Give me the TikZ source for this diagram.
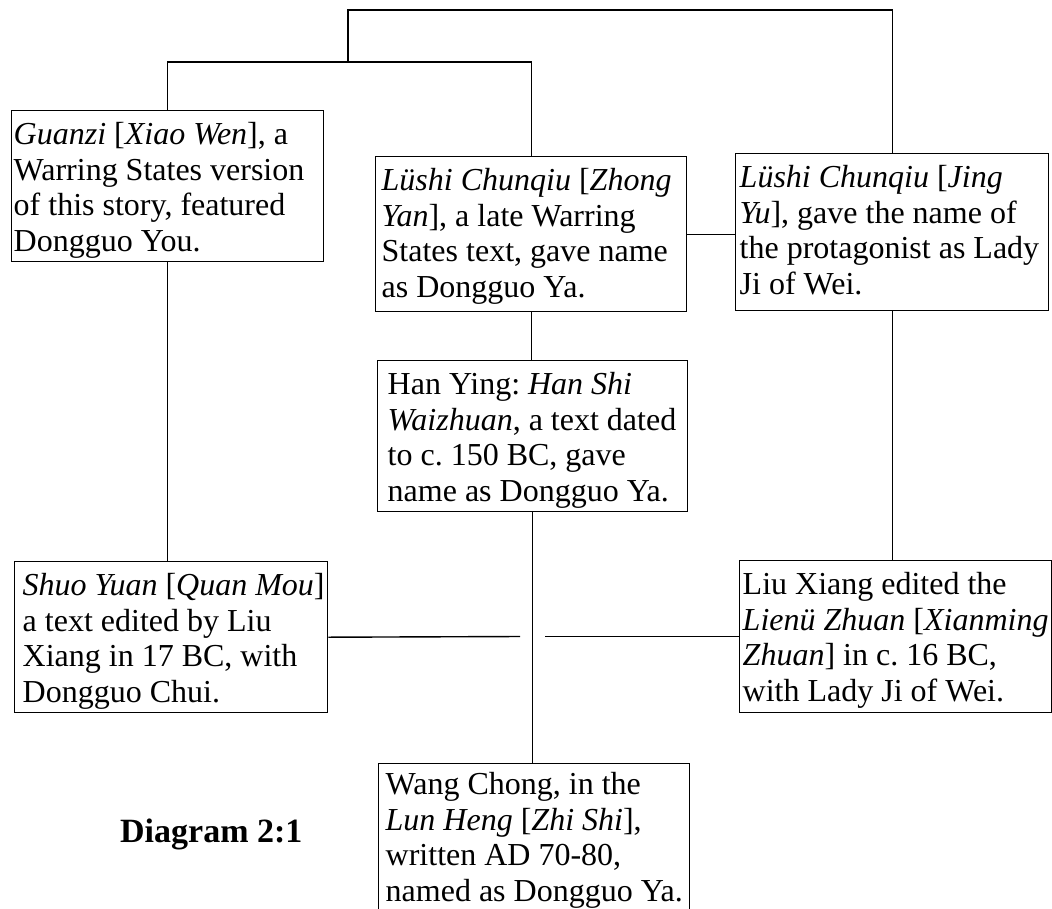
\documentclass[tikz,border=0pt]{standalone}
\usepackage{fontspec}
\setmainfont{Liberation Serif}
% fixed-width, left-aligned block of pre-broken lines
\newcommand\cardtext[2]{\makebox[#1][l]{\begin{tabular}[t]{@{}l@{}}#2\end{tabular}}}
\begin{document}
\frenchspacing
\begin{tikzpicture}[x=1pt, y=-1pt,
  textbox/.style={draw, line width=1.4pt, anchor=north west,
    inner ysep=0pt, text height=34pt,
    font=\fontsize{32}{35.5}\selectfont},
  link/.style={line width=1.4pt},
  heading/.style={anchor=base west, inner sep=0pt,
    font=\bfseries\fontsize{34}{40}\selectfont}]
\useasboundingbox (0,0) rectangle (1052,908);
\clip (0,0) rectangle (1052,908);

% text boxes, placed by their top-left corners
\node[textbox, inner xsep=2pt, text depth=117pt] (G) at (11,110)
  {\cardtext{308pt}{\textit{Guanzi} [\textit{Xiao Wen}], a\\Warring States version\\of this story, featured\\Dongguo You.}};
\node[textbox, inner xsep=6pt, text depth=121pt] (Z) at (375,156)
  {\cardtext{299pt}{\textit{Lüshi Chunqiu} [\textit{Zhong}\\\textit{Yan}], a late Warring\\States text, gave name\\as Dongguo Ya.}};
\node[textbox, inner xsep=4pt, text depth=123pt] (J) at (735,153)
  {\cardtext{305pt}{\textit{Lüshi Chunqiu} [\textit{Jing}\\\textit{Yu}], gave the name of\\the protagonist as Lady\\Ji of Wei.}};
\node[textbox, inner xsep=10pt, text depth=117pt] (H) at (377,360)
  {\cardtext{290pt}{Han Ying: \textit{Han Shi}\\\textit{Waizhuan}, a text dated\\to c. 150 BC, gave\\name as Dongguo Ya.}};
\node[textbox, inner xsep=8pt, text depth=117pt] (S) at (14,561)
  {\cardtext{297pt}{\textit{Shuo Yuan} [\textit{Quan Mou}]\\a text edited by Liu\\Xiang in 17 BC, with\\Dongguo Chui.}};
\node[textbox, inner xsep=3pt, text depth=118pt] (L) at (739,560)
  {\cardtext{306pt}{Liu Xiang edited the\\\textit{Lienü Zhuan} [\textit{Xianming}\\\textit{Zhuan}] in c. 16 BC,\\with Lady Ji of Wei.}};
% this box runs past the lower edge of the picture
\node[textbox, inner xsep=7pt, text height=31pt, text depth=120pt] (W) at (378,763)
  {\cardtext{297pt}{Wang Chong, in the\\\textit{Lun Heng} [\textit{Zhi Shi}],\\written AD 70-80,\\named as Dongguo Ya.}};

\node[heading] (title) at (120,842) {Diagram 2:1};

% junction points of the bracket lines
\coordinate (mid) at (348,62);
\coordinate (top) at (348,10);
\coordinate (gapL) at (520,636.5);
\coordinate (gapR) at (545,636.5);

% connectors
\draw[link] (G.north) -- (G.north |- mid) -| (Z.north);
\draw[link] (mid) -- (top) -| (J.north);
\draw[link] (Z.east) -- (Z.east -| J.west);
\draw[link] (Z.south) -- (Z.south |- H.north);
\draw[link] (H.south) -- (H.south |- W.north);
\draw[link] (G.south) -- (G.south |- S.north);
\draw[link] (J.south) -- (J.south |- L.north);
\draw[link] (S.east) -- (gapL);
\draw[link] (gapR) -- (gapR -| L.west);
\end{tikzpicture}
\end{document}
